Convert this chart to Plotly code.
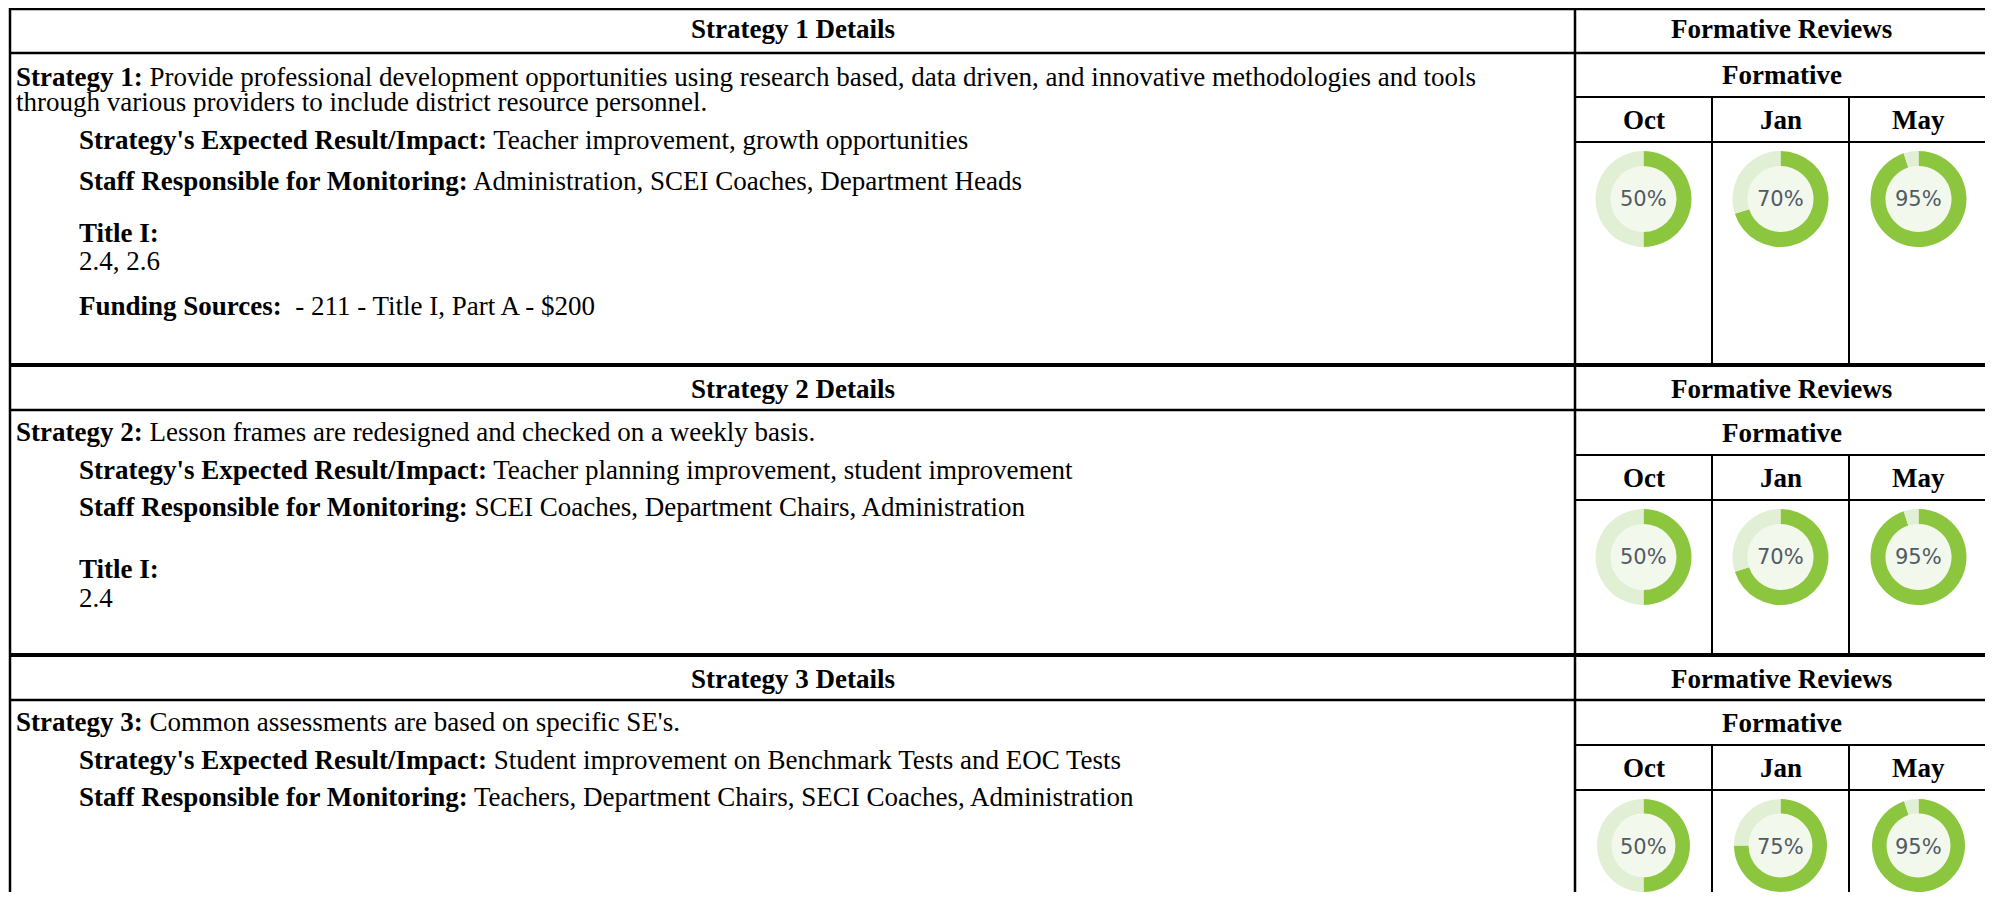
import plotly.graph_objects as go

# ---------------- data ----------------
months = ["Oct", "Jan", "May"]
review_pct = [
    [50, 70, 95],
    [50, 70, 95],
    [50, 75, 95],
]
detail_headers = ["Strategy 1 Details", "Strategy 2 Details", "Strategy 3 Details"]
review_header = "Formative Reviews"
review_subheader = "Formative"

strategy_lines = [
    ["<b>Strategy 1:</b> Provide professional development opportunities using research based, data driven, and innovative methodologies and tools",
     "through various providers to include district resource personnel."],
    ["<b>Strategy 2:</b> Lesson frames are redesigned and checked on a weekly basis."],
    ["<b>Strategy 3:</b> Common assessments are based on specific SE's."],
]
expected_result = [
    "Teacher improvement, growth opportunities",
    "Teacher planning improvement, student improvement",
    "Student improvement on Benchmark Tests and EOC Tests",
]
staff_monitoring = [
    "Administration, SCEI Coaches, Department Heads",
    "SCEI Coaches, Department Chairs, Administration",
    "Teachers, Department Chairs, SECI Coaches, Administration",
]
title_one = ["2.4, 2.6", "2.4", None]
funding = ["\u00a0 - 211 - Title I, Part A - $200", None, None]

# ---------------- geometry (screen px) ----------------
W, H = 1977, 884
OFF = 8
X_LEFT, X_DIV, X_RIGHT = 10, 1575, 1988
X_MON = [1575, 1712, 1849, 1988]
block_top = [9, 365, 655]
block_bottom = [365, 655, 960]
header_bottom = [53, 410, 700]
form_bottom = [97, 455, 745]
month_bottom = [142, 500, 790]
header_text_y = [29, 389, 679]
# y of: strategy first line, expected, staff, title, title value, funding
row_y = [
    [77, 140, 181, 233, 261, 306],
    [432, 470, 507, 569, 598, None],
    [722, 760, 797, None, None, None],
]
WRAP = 25
R_OUT, R_IN = 48, 33

GREEN = "#8cc63f"
LIGHT = "#e1efd5"
HOLE = "#f2f8ec"
SERIF = "Liberation Serif, Times New Roman, serif"
FS = 27


def px(x):
    return (x - OFF) / W


def py(y):
    return 1 - (y - OFF) / H


fig = go.Figure()
shapes = []
annotations = []


def hline(x0, x1, y, w=2):
    shapes.append(dict(type="line", xref="paper", yref="paper", x0=px(x0), x1=px(x1),
                       y0=py(y), y1=py(y), line=dict(color="black", width=w)))


def vline(x, y0, y1, w=2):
    shapes.append(dict(type="line", xref="paper", yref="paper", x0=px(x), x1=px(x),
                       y0=py(y0), y1=py(y1), line=dict(color="black", width=w)))


def text(x, y, s, anchor="left", size=FS, family=SERIF, color="black"):
    annotations.append(dict(xref="paper", yref="paper", x=px(x), y=py(y), text=s,
                            showarrow=False, xanchor=anchor, yanchor="middle",
                            font=dict(family=family, size=size, color=color)))


# outer verticals
vline(X_LEFT, block_top[0] - 1, 960, 2.5)
vline(X_RIGHT, block_top[0] - 1, 960, 2.5)
vline(X_DIV, block_top[0] - 1, 960, 2.5)
hline(X_LEFT, X_RIGHT, block_top[0], 2.5)

for b in range(3):
    top, hb, fb, mb, bot = block_top[b], header_bottom[b], form_bottom[b], month_bottom[b], block_bottom[b]
    if b > 0:
        hline(X_LEFT, X_RIGHT, top, 4)
    hline(X_LEFT, X_RIGHT, hb, 2.5)
    hline(X_DIV, X_RIGHT, fb, 2)
    hline(X_DIV, X_RIGHT, mb, 2)
    for xm in X_MON[1:-1]:
        vline(xm, fb, bot, 2)

    # headers
    text((X_LEFT + X_DIV) / 2, header_text_y[b], "<b>%s</b>" % detail_headers[b], anchor="center")
    text((X_DIV + X_RIGHT) / 2, header_text_y[b], "<b>%s</b>" % review_header, anchor="center")
    text((X_DIV + X_RIGHT) / 2, (hb + fb) / 2, "<b>%s</b>" % review_subheader, anchor="center")
    for i, m in enumerate(months):
        text((X_MON[i] + X_MON[i + 1]) / 2, (fb + mb) / 2, "<b>%s</b>" % m, anchor="center")

    # left text
    ys = row_y[b]
    for k, ln in enumerate(strategy_lines[b]):
        text(14, ys[0] + k * WRAP, ln)
    text(77, ys[1], "<b>Strategy's Expected Result/Impact:</b> " + expected_result[b])
    text(77, ys[2], "<b>Staff Responsible for Monitoring:</b> " + staff_monitoring[b])
    if title_one[b] is not None:
        text(77, ys[3], "<b>Title I:</b>")
        text(77, ys[4], title_one[b])
    if funding[b] is not None:
        text(77, ys[5], "<b>Funding Sources:</b>" + funding[b])

    # donuts
    cy = mb + 57
    for i, pct in enumerate(review_pct[b]):
        cx = (X_MON[i] + X_MON[i + 1]) / 2
        x0, x1 = px(cx - R_OUT), px(cx + R_OUT)
        y0, y1 = py(cy + R_OUT), py(cy - R_OUT)
        y0 = max(0.0, y0)
        fig.add_trace(go.Pie(
            values=[pct, 100 - pct], sort=False, direction="clockwise", rotation=0,
            hole=R_IN / R_OUT, marker=dict(colors=[GREEN, LIGHT], line=dict(width=0)),
            textinfo="none", hoverinfo="skip", showlegend=False,
            domain=dict(x=[x0, x1], y=[y0, y1]),
        ))
        shapes.append(dict(type="circle", xref="paper", yref="paper", layer="below",
                           x0=px(cx - R_IN), x1=px(cx + R_IN), y0=py(cy + R_IN), y1=py(cy - R_IN),
                           fillcolor=HOLE, line=dict(width=0)))
        text(cx, cy, "%d%%" % pct, anchor="center", size=21,
             family="DejaVu Sans, Verdana, sans-serif", color="#525a66")

fig.update_layout(
    width=W, height=H, margin=dict(l=0, r=0, t=0, b=0),
    paper_bgcolor="white", plot_bgcolor="white",
    shapes=shapes, annotations=annotations, showlegend=False,
)
fig.write_html("out.html")
